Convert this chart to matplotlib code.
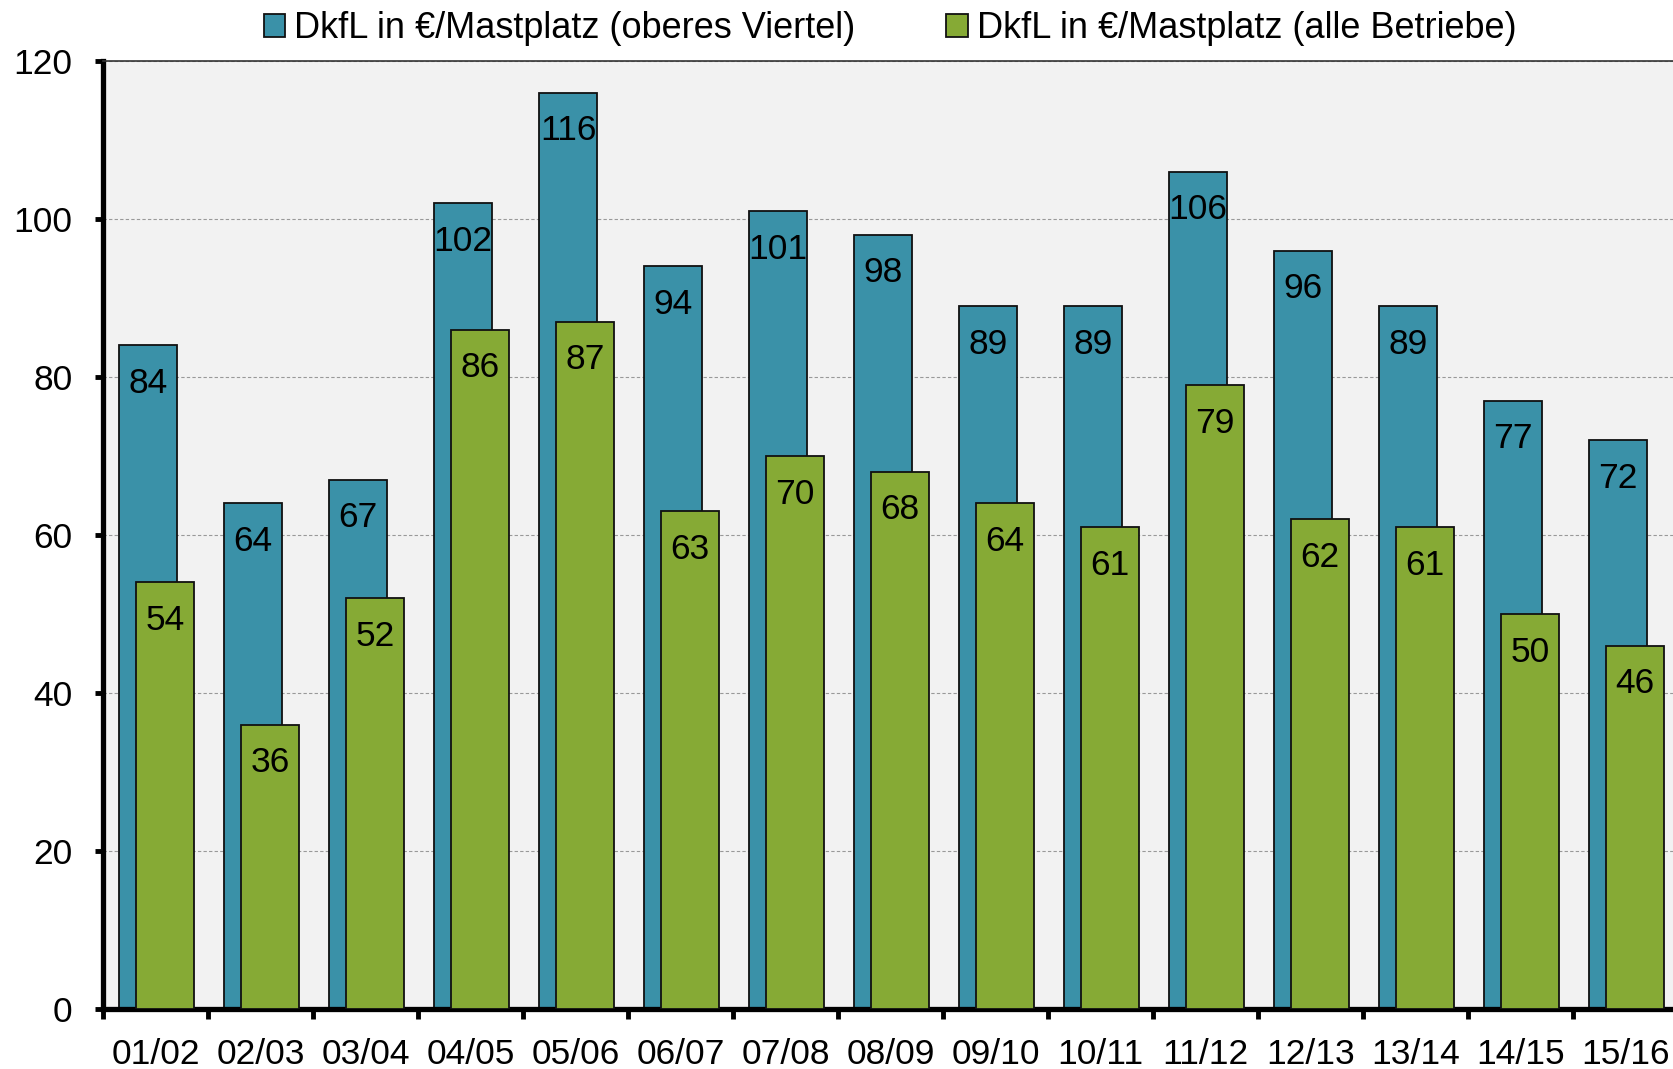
import numpy as np
import matplotlib.pyplot as plt

plt.rcParams['font.family'] = ['Liberation Sans', 'DejaVu Sans']

# data
jahre = ['01/02', '02/03', '03/04', '04/05', '05/06', '06/07', '07/08', '08/09',
         '09/10', '10/11', '11/12', '12/13', '13/14', '14/15', '15/16']
oberes_viertel = [84, 64, 67, 102, 116, 94, 101, 98, 89, 89, 106, 96, 89, 77, 72]
alle_betriebe = [54, 36, 52, 86, 87, 63, 70, 68, 64, 61, 79, 62, 61, 50, 46]
label_oben = 'DkfL in €/Mastplatz (oberes Viertel)'
label_alle = 'DkfL in €/Mastplatz (alle Betriebe)'

blau = '#3A91A8'
gruen = '#86AA35'
fs = 25.5

W, H = 1674, 1069
fig = plt.figure(figsize=(W / 100, H / 100), dpi=100)
ax = fig.add_axes([103 / W, (H - 1009) / H, 1575 / W, (1009 - 61) / H])
ax.set_facecolor('#F2F2F2')

x = np.arange(len(jahre))
bw = 0.555
b1 = ax.bar(x - 0.07, oberes_viertel, bw, color=blau, edgecolor='#111111',
            linewidth=1.3, label=label_oben, zorder=2)
b2 = ax.bar(x + 0.09, alle_betriebe, bw, color=gruen, edgecolor='#111111',
            linewidth=1.3, label=label_alle, zorder=3)

for bars, vals, z in ((b1, oberes_viertel, 2.5), (b2, alle_betriebe, 3.5)):
    for r, v in zip(bars, vals):
        ax.annotate(str(v), (r.get_x() + r.get_width() / 2, v),
                    xytext=(0, -27.5), textcoords='offset points',
                    ha='center', va='center', fontsize=fs, color='black', zorder=z)

ax.set_xlim(-0.5, len(jahre) - 0.5)
ax.set_ylim(0, 120)
ax.set_yticks(range(0, 121, 20))
ax.yaxis.grid(True, linestyle=(0, (3, 2)), color='#999999', linewidth=0.8, zorder=1)
ax.set_axisbelow(True)

ax.set_xticks(x)
ax.set_xticklabels(jahre)
ax.set_xticks(np.arange(-0.5, len(jahre)), minor=True)
ax.tick_params(axis='x', which='major', length=0, pad=21, labelsize=fs)
ax.tick_params(axis='x', which='minor', length=7, width=3.5, direction='out')
ax.tick_params(axis='y', length=6, width=3.5, pad=16, labelsize=fs)

for s in ('left', 'bottom'):
    ax.spines[s].set_linewidth(3.8)
ax.spines['top'].set_linewidth(1.2)
ax.spines['top'].set_color('#333333')
ax.spines['right'].set_visible(False)

fig.legend(loc='center', bbox_to_anchor=(890 / W, 1 - 29 / H), ncol=2, frameon=False,
           fontsize=26, handlelength=0.6, handleheight=0.6, handletextpad=0.25,
           columnspacing=2.5, borderpad=0)

fig.savefig('out.png', dpi=100)
